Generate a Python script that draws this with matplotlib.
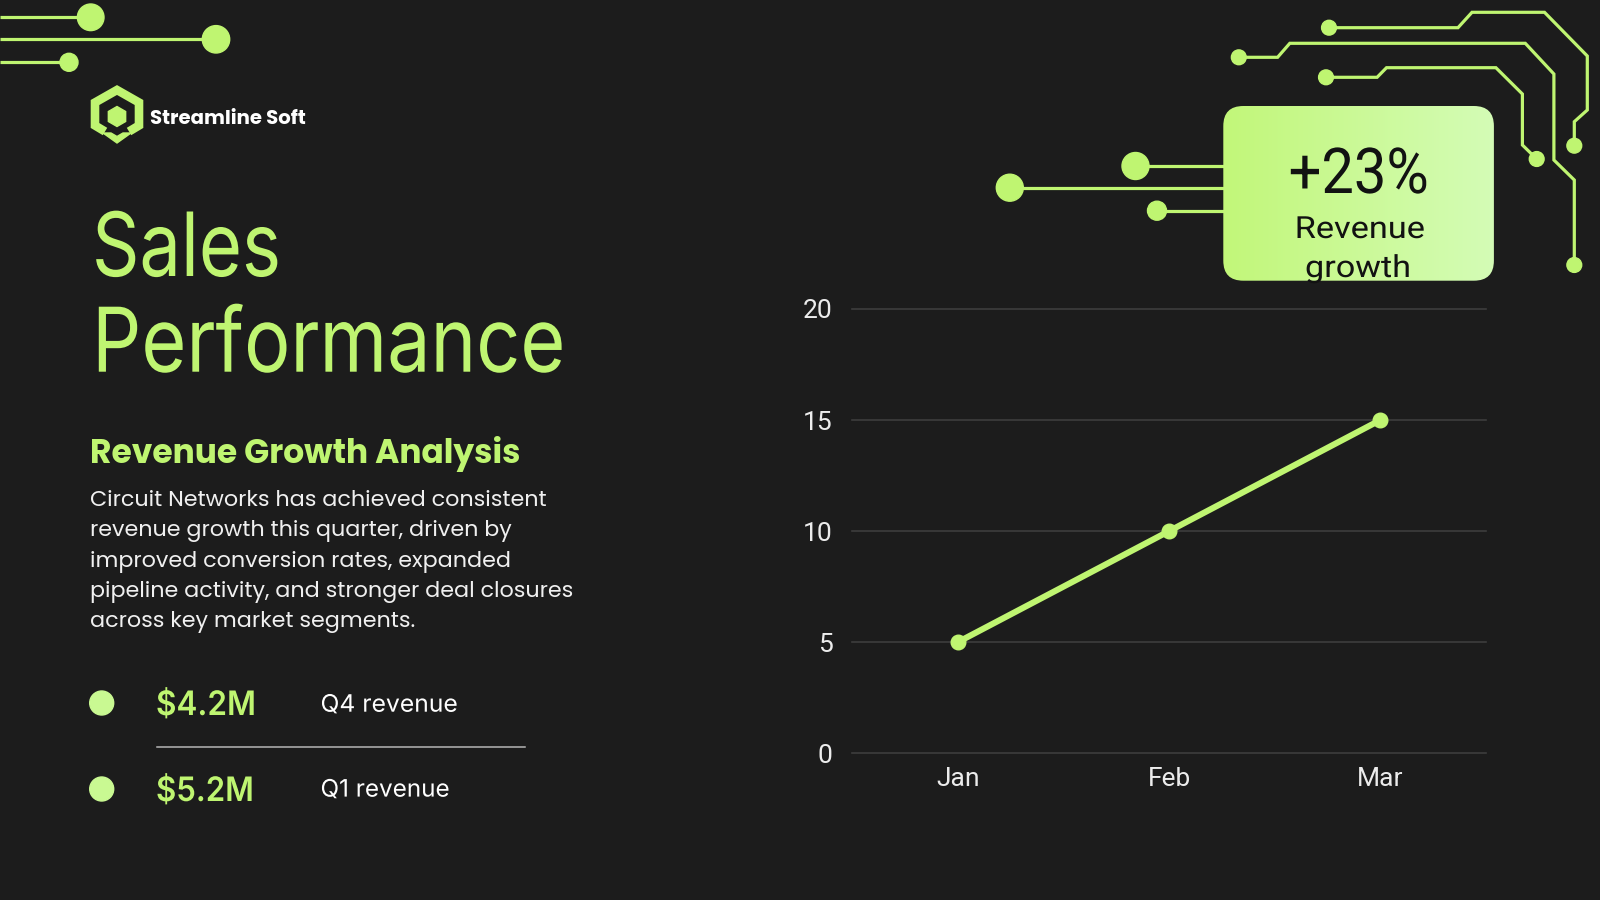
import numpy as np
import matplotlib.pyplot as plt
from matplotlib.patches import FancyBboxPatch, Circle, Polygon
from matplotlib.colors import LinearSegmentedColormap
from matplotlib.patheffects import AbstractPathEffect
from matplotlib.transforms import Affine2D
from matplotlib.textpath import TextPath
from matplotlib.font_manager import FontProperties

# Data
months = ['Jan', 'Feb', 'Mar']
revenue = [5, 10, 15]
y_ticks = [0, 5, 10, 15, 20]

kpi_values = ['$4.2M', '$5.2M']
kpi_labels = ['Q4 revenue', 'Q1 revenue']
growth_value = '+23%'
growth_label = ['Revenue', 'growth']

title_lines = ['Sales', 'Performance']
heading = 'Revenue Growth Analysis'
body_lines = ['Circuit Networks has achieved consistent',
              'revenue growth this quarter, driven by',
              'improved conversion rates, expanded',
              'pipeline activity, and stronger deal closures',
              'across key market segments.']
brand = 'Streamline Soft'

BG = '#1c1c1c'
LIME = '#bff571'
LIME_PALE = '#c9f992'
INTER = ['Inter', 'DejaVu Sans']
POPPINS = ['Poppins', 'Open Sans', 'DejaVu Sans']

plt.rcParams['font.family'] = ['Roboto', 'DejaVu Sans']

fig = plt.figure(figsize=(16, 9), dpi=100, facecolor=BG)
bg = fig.add_axes([0, 0, 1, 1])
bg.set_facecolor(BG)
bg.axis('off')
bg.set_xlim(0, 1600)
bg.set_ylim(900, 0)
renderer = fig.canvas.get_renderer()


class SqueezeX(AbstractPathEffect):
    # squeeze glyphs horizontally around a fixed display x
    def __init__(self, sx, x0):
        super().__init__()
        self.sx, self.x0 = sx, x0

    def draw_path(self, renderer, gc, tpath, affine, rgbFace=None):
        a = affine + Affine2D().translate(-self.x0, 0).scale(self.sx, 1).translate(self.x0, 0)
        renderer.draw_path(gc, tpath, a, rgbFace)


def cap_ratio(family, weight):
    fp = FontProperties(family=family, weight=weight)
    return TextPath((0, 0), 'H', size=100, prop=fp).get_extents().height / 100


def label(x, y, s, cap, width=None, ha='left', family=INTER, weight='normal', **kw):
    px = cap / cap_ratio(family, weight)
    t = bg.text(x, y, s, ha=ha, va='baseline', fontsize=px * 72 / 100,
                family=family, fontweight=weight, **kw)
    if width is not None:
        w = t.get_window_extent(renderer).width
        t.set_path_effects([SqueezeX(width / w, x)])
    return t


# circuit lines, top left
for y, xe, r in [(17.3, 90.7, 13.3), (39.3, 216, 13.7), (62.3, 69, 9)]:
    bg.plot([0, xe], [y, y], color=LIME, lw=2.3, solid_capstyle='butt')
    bg.add_patch(Circle((xe, y), r, color=LIME))

# circuit traces, top right
traces = [
    [(1329, 27.7), (1458, 27.7), (1472, 12.3), (1544.5, 12.3), (1587.3, 56),
     (1587.3, 110), (1574.3, 121.7), (1574.3, 145.7)],
    [(1238.8, 57.3), (1277.6, 57.3), (1289.8, 43.3), (1525.3, 43.3), (1553.9, 74),
     (1553.9, 160), (1574.3, 180), (1574.3, 265)],
    [(1326, 77.3), (1377.1, 77.3), (1386.5, 67.7), (1495.9, 67.7), (1522.4, 94),
     (1522.4, 145), (1536.7, 159)],
]
for tr in traces:
    xs, ys = zip(*tr)
    bg.plot(xs, ys, color=LIME, lw=2.3, solid_joinstyle='miter')
    bg.add_patch(Circle(tr[0], 7.4, color=LIME))
    bg.add_patch(Circle(tr[-1], 7.4, color=LIME))

# connectors into the growth card
for y, xs, r in [(166, 1135.5, 13.5), (187.7, 1009.8, 13.5), (210.7, 1157, 9.5)]:
    bg.plot([xs, 1240], [y, y], color=LIME, lw=2.3)
    bg.add_patch(Circle((xs, y), r, color=LIME))

# growth card with gradient
card = FancyBboxPatch((1223.3, 106), 270.6, 174.7,
                      boxstyle='round,pad=0,rounding_size=20',
                      facecolor='none', edgecolor='none', zorder=4)
bg.add_patch(card)
grad = np.linspace(0, 1, 256).reshape(1, -1)
cmap = LinearSegmentedColormap.from_list('card', ['#c2f779', '#d4fcb6'])
im = bg.imshow(grad, extent=(1223.3, 1493.9, 106, 280.7), cmap=cmap,
               aspect='auto', zorder=4)
im.set_clip_path(card)

label(1288.6, 193, growth_value, 45, 140, family=['Roboto', 'DejaVu Sans'],
      color='#121212', zorder=5)
label(1294.7, 238, growth_label[0], 21.7, 130, family=['Roboto', 'DejaVu Sans'],
      color='#121212', zorder=5)
t = label(1305, 277, growth_label[1], 21.7, 106, family=['Roboto', 'DejaVu Sans'],
          color='#121212', zorder=5)
t.set_clip_path(card)

# logo
bg.plot([105, 95, 95, 117, 139, 139, 129],
        [131.5, 125.5, 102.5, 90, 102.5, 125.5, 131.5],
        color=LIME, lw=6.2, solid_joinstyle='miter', solid_capstyle='butt')
ang = np.deg2rad(np.arange(90, 450, 60))
bg.add_patch(Polygon(np.c_[117 + 10 * np.cos(ang), 116.5 - 10 * np.sin(ang)], color=LIME))
bg.add_patch(Polygon([(103, 133), (111, 133), (117, 136.5), (123, 133), (131, 133),
                      (117, 143)], color=LIME))
t = bg.text(150, 124, brand, ha='left', va='baseline', color='white',
            fontsize=15, fontweight='bold', family=POPPINS)
t.set_fontsize(15 * 156 / t.get_window_extent(renderer).width)

# title
label(92, 276, title_lines[0], 64.5, 189, color=LIME)
label(92, 371.7, title_lines[1], 65, 473, color=LIME)

t = bg.text(90, 463, heading, ha='left', va='baseline', color=LIME,
            fontsize=23, fontweight='bold', family=POPPINS)
t.set_fontsize(23 * 432 / t.get_window_extent(renderer).width)

body = []
for i, line in enumerate(body_lines):
    body.append(bg.text(90, 506 + i * 30.3, line, ha='left', va='baseline',
                        color='#f0f0f0', fontsize=16.5, family=POPPINS))
fs = 16.5 * 482 / body[3].get_window_extent(renderer).width
for b in body:
    b.set_fontsize(fs)

# KPI rows
kpi_base = [715, 801]
lab_base = [711.7, 796.6]
val_w = [100, 98]
lab_w = [137, 129]
for i in range(2):
    bg.add_patch(Circle((101.7, kpi_base[i] - 12), 12, color=LIME_PALE))
    label(156, kpi_base[i], kpi_values[i], 24.5, val_w[i], weight='semibold', color=LIME)
    label(320.5, lab_base[i], kpi_labels[i], 17.5, lab_w[i], color='white')
bg.plot([156.7, 525], [747, 747], color='#b5b5b5', lw=1.1)

bg.set_xlim(0, 1600)
bg.set_ylim(900, 0)

# line chart
L, R, T, B = 852, 1486, 309, 753.3
ax = fig.add_axes([L / 1600, 1 - B / 900, (R - L) / 1600, (B - T) / 900])
ax.set_facecolor('none')
ax.plot(range(len(months)), revenue, color=LIME, lw=4.4, marker='o', ms=10.5,
        clip_on=False, zorder=3)
ax.set_xlim(-0.5, 2.5)
ax.set_ylim(0, 20)
ax.set_yticks(y_ticks)
ax.set_xticks(range(len(months)), months)
ax.grid(axis='y', color='#3d3d3d', lw=1.2, clip_on=False)
ax.set_axisbelow(True)
for s in ax.spines.values():
    s.set_visible(False)
ax.tick_params(axis='both', length=0, colors='#ececec', labelsize=19)
ax.tick_params(axis='y', pad=14)
ax.tick_params(axis='x', pad=10)

fig.savefig('out.png', dpi=100, facecolor=BG)
